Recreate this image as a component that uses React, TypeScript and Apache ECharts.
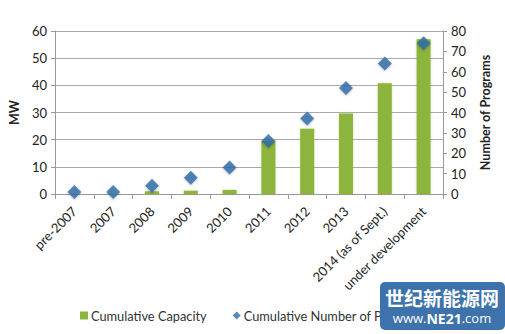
import React, { useEffect, useRef } from "react";
import * as echarts from "echarts";

const categories = ["pre-2007", "2007", "2008", "2009", "2010", "2011", "2012", "2013", "2014 (as of Sept.)", "under development"];
const capacityMW = [0, 0, 1, 1.2, 1.5, 19.5, 24, 29.6, 40.8, 57];
const programCount = [1, 1, 4, 8, 13, 26, 37, 52, 64, 74];
const leftTicks = { min: 0, max: 60, interval: 10 };
const rightTicks = { min: 0, max: 80, interval: 10 };

const FONT = "Lato, 'Open Sans', sans-serif";

export default function App() {
  const ref = useRef<HTMLDivElement>(null);
  useEffect(() => {
    if (!ref.current) return;
    const chart = echarts.init(ref.current, undefined, { renderer: "svg" });
    chart.setOption({
      animation: false,
      backgroundColor: "#ffffff",
      textStyle: { fontFamily: FONT },
      grid: { left: 48, right: 62, top: 31, bottom: 140 },
      legend: {
        left: 75,
        top: 304,
        itemGap: 26,
        itemWidth: 8,
        itemHeight: 8,
        textStyle: { fontSize: 12.8, color: "#333", fontFamily: FONT, padding: [0, 0, 0, -2] },
        data: [
          { name: "Cumulative Capacity", icon: "rect" },
          { name: "Cumulative Number of Programs", icon: "diamond" },
        ],
      },
      xAxis: {
        type: "category",
        data: categories,
        axisLine: { lineStyle: { color: "#999" } },
        axisTick: { show: true, alignWithLabel: false, lineStyle: { color: "#999" }, length: 5 },
        axisLabel: { rotate: 45, fontSize: 13, color: "#222", margin: 15, interval: 0, fontFamily: FONT },
      },
      yAxis: [
        {
          type: "value",
          ...leftTicks,
          name: "MW",
          nameLocation: "middle",
          nameGap: 30,
          nameTextStyle: { fontWeight: "bold", fontSize: 12.5, color: "#222", fontFamily: FONT },
          axisLine: { show: true, lineStyle: { color: "#999" } },
          axisTick: { show: true, inside: false, length: 4, lineStyle: { color: "#999" } },
          axisLabel: { fontSize: 13, color: "#222", margin: 8, fontFamily: FONT },
          splitLine: { lineStyle: { color: "#aaa", width: 1 } },
        },
        {
          type: "value",
          ...rightTicks,
          name: "Number of Programs",
          nameLocation: "middle",
          nameGap: 36,
          nameRotate: 90,
          nameTextStyle: { fontWeight: "bold", fontSize: 12.5, color: "#222", fontFamily: FONT },
          axisLine: { show: true, lineStyle: { color: "#999" } },
          axisTick: { show: true, length: 4, lineStyle: { color: "#999" } },
          axisLabel: { fontSize: 13, color: "#222", margin: 8, fontFamily: FONT },
          splitLine: { show: false },
        },
      ],
      series: [
        {
          name: "Cumulative Capacity",
          type: "bar",
          yAxisIndex: 0,
          data: capacityMW,
          barWidth: 14,
          itemStyle: { color: "#8db43e", shadowColor: "rgba(141,180,62,0.35)", shadowBlur: 3 },
        },
        {
          name: "Cumulative Number of Programs",
          type: "scatter",
          yAxisIndex: 1,
          data: programCount,
          symbol: "diamond",
          symbolSize: [14, 14],
          itemStyle: { color: "#2d6aa8", shadowColor: "rgba(0,0,0,0.3)", shadowBlur: 2, shadowOffsetY: 1 },
          z: 3,
        },
      ],
      graphic: [
        {
          type: "rect",
          shape: { x: 380, y: 282, width: 125, height: 48, r: 5 },
          style: { fill: "#3d72ad" },
          z: 100,
        },
        {
          type: "text",
          x: 442,
          y: 297,
          style: {
            text: "世纪新能源网",
            fill: "#ffffff",
            font: "bold 19px 'Noto Sans CJK SC', sans-serif",
            align: "center",
            verticalAlign: "middle",
          },
          z: 101,
        },
        {
          type: "text",
          x: 442,
          y: 318,
          style: {
            rich: {
              a: { fill: "#ffffff", fontSize: 13, fontFamily: "'Open Sans', sans-serif" },
              b: { fill: "#ffffff", fontSize: 14, fontWeight: "bold", fontFamily: "'Open Sans', sans-serif" },
            },
            text: "{a|www.}{b|NE21}{a|.com}",
            align: "center",
            verticalAlign: "middle",
          },
          z: 101,
        },
      ],
    });
    return () => chart.dispose();
  }, []);
  return <div ref={ref} style={{ width: 505, height: 334, position: "absolute", left: 0, top: 0 }} />;
}
